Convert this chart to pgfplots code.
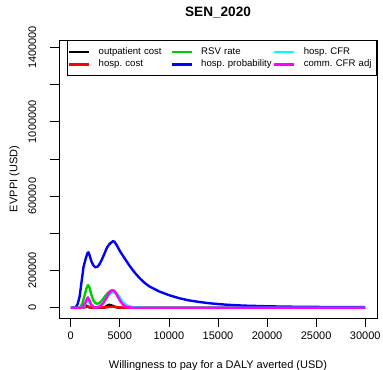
\documentclass[border=0pt]{standalone}
\usepackage{fontspec}
\setmainfont{Liberation Sans}
\usepackage{pgfplots}
\pgfplotsset{compat=1.18}
\definecolor{rgreen}{HTML}{00CD00}
\definecolor{rcyan}{HTML}{00FFFF}
\definecolor{rmag}{HTML}{FF00FF}
\begin{document}
\frenchspacing
\begin{tikzpicture}
\path[use as bounding box] (-44.25pt,-39pt) rectangle (243pt,238.5pt);
\begin{axis}[
  at={(0,0)}, anchor=south west,
  scale only axis, width=238.5pt, height=208.5pt,
  xmin=-1200, xmax=31200, ymin=-55000, ymax=1440000,
  scaled ticks=false,
  axis line style={line width=0.6pt},
  tick align=outside, major tick length=6.5pt,
  every tick/.style={black, line width=0.6pt},
  xtick pos=bottom, ytick pos=left,
  xtick={0,5000,10000,15000,20000,25000,30000},
  xticklabels={0,5000,10000,15000,20000,25000,30000},
  ytick={0,200000,400000,600000,800000,1000000,1200000,1400000},
  yticklabels={0,200000,,600000,,1000000,,1400000},
  tick label style={font=\fontsize{8.25pt}{9.9pt}\selectfont},
  xticklabel style={anchor=center, yshift=-7pt},
  yticklabel style={xshift=-13.5pt, rotate=90, anchor=center},
  label style={font=\fontsize{8.25pt}{9.9pt}\selectfont},
  xlabel={Willingness to pay for a DALY averted (USD)},
  ylabel={EVPPI (USD)},
  xlabel style={at={(axis description cs:0.5,-0.172)}, anchor=center},
  ylabel style={at={(axis description cs:-0.1400,0.5)}, anchor=center},
  every axis title shift=0pt,
  title={SEN\_2020},
  title style={at={(axis description cs:0.5,1.0971)}, anchor=center, font=\fontsize{10.2pt}{12pt}\selectfont\bfseries},
  legend style={at={(axis description cs:0.024,1)}, anchor=north west,
    draw=black, line width=0.6pt, inner xsep=0.85pt, inner ysep=4.1pt,
    font=\fontsize{7.2pt}{8.6pt}\selectfont\frenchspacing,
    nodes={inner sep=0pt, text width=54pt, align=left, text height=5.2pt, text depth=1.5pt, minimum height=9.2pt},
    column sep=0pt, row sep=0pt,
    /tikz/every odd column/.append style={column sep=6pt},
    /tikz/every even column/.append style={column sep=0pt}},
  legend columns=2, transpose legend,
  legend cell align=left,
  legend image code/.code={\draw[#1, line width=1.9pt] (0pt,0pt) -- (15pt,0pt);},
  every axis plot/.append style={line width=1.8pt, line join=round},
]
\addplot[black] coordinates {(0,0) (1200,0) (1400,6000) (1550,12000) (1700,8000) (1900,2000) (2200,0) (3400,0) (3600,8000) (3900,16000) (4200,12000) (4500,5000) (4800,1000) (5200,0) (30000,0)};
\addlegendentry{outpatient cost}
\addplot[red] coordinates {(0,0) (1300,0) (1500,4000) (1700,6000) (1900,3000) (2200,1000) (3500,2000) (4000,5000) (4300,6000) (4700,3000) (5200,500) (5600,0) (30000,0)};
\addlegendentry{hosp. cost}
\addplot[rgreen] coordinates {(0,0) (800,0) (1000,5000) (1200,25000) (1400,65000) (1600,105000) (1750,122000) (1900,110000) (2100,70000) (2300,40000) (2500,25000) (2700,22000) (2900,25000) (3100,35000) (3400,55000) (3700,75000) (4000,90000) (4250,95000) (4500,85000) (4800,60000) (5100,35000) (5400,18000) (5800,8000) (6300,3000) (7000,1500) (8000,500) (10000,0) (30000,0)};
\addlegendentry{RSV rate}
\addplot[blue] coordinates {(0,0) (250,0) (500,2000) (700,20000) (900,60000) (1100,140000) (1300,220000) (1500,260000) (1700,295000) (1800,298000) (1900,285000) (2100,250000) (2300,228000) (2500,218000) (2700,220000) (2900,232000) (3100,252000) (3300,275000) (3500,300000) (3700,325000) (3900,340000) (4100,350000) (4300,358000) (4450,355000) (4700,335000) (5000,305000) (5500,265000) (6000,225000) (6500,190000) (7000,160000) (7500,135000) (8000,115000) (9000,88000) (10000,68000) (11000,52000) (12000,40000) (13000,32000) (14000,25000) (15000,20000) (16000,16000) (17000,13000) (18000,11000) (20000,8000) (22000,6000) (25000,4500) (28000,3500) (30000,3000)};
\addlegendentry{hosp. probability}
\addplot[rcyan] coordinates {(0,0) (1100,0) (1300,5000) (1500,22000) (1700,38000) (1800,36000) (2000,18000) (2300,5000) (2600,3000) (2900,8000) (3200,22000) (3500,42000) (3800,65000) (4100,80000) (4400,85000) (4700,75000) (5000,55000) (5300,32000) (5700,12000) (6200,3000) (7000,500) (8000,0) (30000,0)};
\addlegendentry{hosp. CFR}
\addplot[rmag] coordinates {(0,0) (1000,0) (1200,3000) (1400,18000) (1600,42000) (1750,56000) (1900,40000) (2100,15000) (2300,4000) (2500,1500) (2800,3000) (3000,8000) (3300,25000) (3600,50000) (3900,78000) (4200,93000) (4400,92000) (4700,70000) (5000,40000) (5300,18000) (5600,6000) (6000,1500) (6500,0) (30000,0)};
\addlegendentry{comm. CFR adj}
\end{axis}
\end{tikzpicture}
\end{document}
